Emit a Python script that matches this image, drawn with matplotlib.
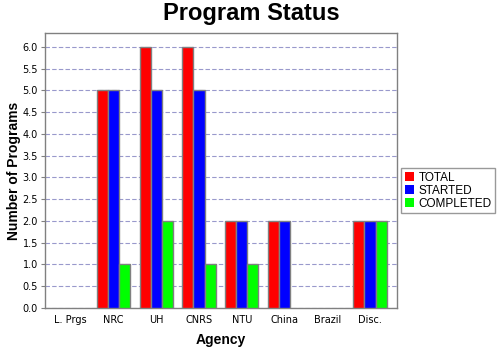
import matplotlib.pyplot as plt
import numpy as np

agencies = ["L. Prgs", "NRC", "UH", "CNRS", "NTU", "China", "Brazil", "Disc."]
total = [0, 5, 6, 6, 2, 2, 0, 2]
started = [0, 5, 5, 5, 2, 2, 0, 2]
completed = [0, 1, 2, 1, 1, 0, 0, 2]

series = [("TOTAL", total, "#ff0000"), ("STARTED", started, "#0000ff"), ("COMPLETED", completed, "#00ff00")]
HEAD_FONT = ["Liberation Sans", "DejaVu Sans"]

fig = plt.figure(figsize=(5, 3.5), dpi=100)
ax = fig.add_axes([0.09, 0.12, 0.704, 0.786])

x = np.arange(len(agencies))
w = 0.26
for i, (name, vals, color) in enumerate(series):
    vals = np.asarray(vals, dtype=float)
    # empty categories get no bar outline
    lw = np.where(vals > 0, 1.0, 0.0)
    ax.bar(x + (i - 1) * w, vals, w, color=color, edgecolor="#808080", linewidth=lw, label=name, zorder=3)

ax.set_xlim(-0.6, 7.63)
ax.set_ylim(0, 6.32)
ticks = np.arange(0, 6.01, 0.5)
ax.set_yticks(ticks)
ax.set_yticklabels([f"{v:.1f}" for v in ticks], fontsize=7)
ax.set_xticks(x)
ax.set_xticklabels(agencies, fontsize=7)
ax.tick_params(axis="x", length=0, pad=5)
ax.tick_params(axis="y", length=3, color="#808080", pad=2)
ax.yaxis.grid(True, color="#9999cc", linestyle=(0, (4, 2)), linewidth=0.8, zorder=0)
for s in ax.spines.values():
    s.set_color("#808080")
    s.set_linewidth(1.0)

ax.set_xlabel("Agency", fontsize=10, fontweight="bold", family=HEAD_FONT, labelpad=6)
ax.set_ylabel("Number of Programs", fontsize=10, fontweight="bold", family=HEAD_FONT, labelpad=1)
fig.suptitle("Program Status", fontsize=17, fontweight="bold", family=HEAD_FONT, x=0.503, y=0.995)

leg = fig.legend(loc="upper left", bbox_to_anchor=(0.802, 0.52), frameon=True,
                 prop={"family": HEAD_FONT, "size": 8.5},
                 fancybox=False, edgecolor="#808080", handlelength=0.8, handleheight=0.8,
                 handletextpad=0.4, borderpad=0.3, labelspacing=0.1, borderaxespad=0)
leg.get_frame().set_linewidth(1.0)

fig.savefig("out.png", dpi=100)
